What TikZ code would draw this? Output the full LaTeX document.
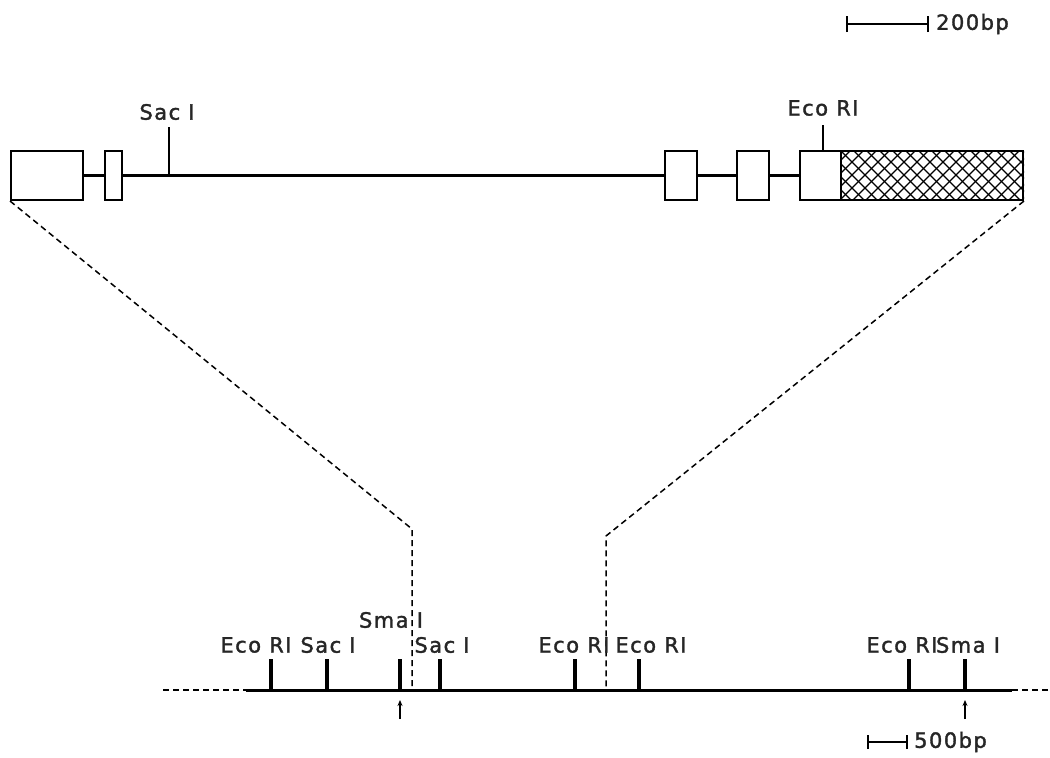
\documentclass[tikz,border=0pt]{standalone}
\usepackage{fontspec}
\newfontfamily\lbfont{DejaVu Sans}[LetterSpace=7,FakeBold=1.6]
\usetikzlibrary{arrows.meta}
\tikzset{
  exon/.style={draw, line width=2pt, inner sep=0pt, fill=white, anchor=north west},
  gline/.style={line width=2.4pt},
  siteline/.style={line width=2.4pt},
  tickline/.style={line width=3.2pt},
  guide/.style={line width=1.5pt, dash pattern=on 6pt off 4pt},
  lbl/.style={font=\lbfont\fontsize{21}{25}\selectfont, inner sep=0pt, text=black!85},
  barline/.style={line width=2.6pt},
  uparrow/.style={line width=2pt, -{Stealth[length=6pt,width=5pt]}}
}
\begin{document}
\begin{tikzpicture}[x=1pt,y=-1pt]
\useasboundingbox[fill=white] (0,0) rectangle (1050,758);

% scale bar top
\coordinate (sa) at (847,24); \coordinate (sb) at (928,24);
\draw[barline] (sa) -- (sb);
\draw[barline] ([yshift=-8pt]sa) -- ([yshift=8pt]sa);
\draw[barline] ([yshift=-8pt]sb) -- ([yshift=8pt]sb);
\node[lbl, anchor=west] (s200) at (936,24) {200bp};

% gene structure
\node[exon, minimum width=72pt, minimum height=49pt] (e1) at (10,150) {};
\node[exon, minimum width=17pt, minimum height=49pt] (e2) at (104,150) {};
\node[exon, minimum width=32pt, minimum height=49pt] (e3) at (664,150) {};
\node[exon, minimum width=32pt, minimum height=49pt] (e4) at (736,150) {};
\node[exon, minimum width=41pt, minimum height=49pt] (e5) at (799,150) {};
\node[exon, minimum width=182pt, minimum height=49pt, fill=none] (e6) at (840,150) {};
\begin{scope}
  \clip (e6.north west) rectangle (e6.south east);
  \foreach \k in {-5,...,16} {
    \draw[line width=1.3pt] (840+\k*13,150) -- ++(50,50);
    \draw[line width=1.3pt] (840+\k*13+50,150) -- ++(-50,50);
  }
\end{scope}
\node[exon, minimum width=182pt, minimum height=49pt, fill=none] at (840,150) {};

\draw[gline] (e1.east) -- (e2.west);
\draw[gline] (e2.east) -- (e3.west);
\draw[gline] (e3.east) -- (e4.west);
\draw[gline] (e4.east) -- (e5.west);

% Sac I top
\coordinate (sac0) at (169,174); \coordinate (sac1) at (169,127);
\draw[siteline] (sac0) -- (sac1);
\node[lbl] (tsac) at (167,112) {Sac I};
% Eco RI top
\coordinate (eco0) at (823,150); \coordinate (eco1) at (823,125);
\draw[siteline] (eco0) -- (eco1);
\node[lbl] (teco) at (823,108) {Eco RI};

% guides
\coordinate (bl) at (412,529); \coordinate (bl2) at (412,690);
\coordinate (br) at (606,536); \coordinate (br2) at (606,690);
\draw[guide] (e1.south west) -- (bl) -- (bl2);
\draw[guide] (e6.south east) -- (br) -- (br2);

% genomic line
\coordinate (L0) at (163,690); \coordinate (L1) at (246,690);
\coordinate (L2) at (1012,690); \coordinate (L3) at (1050,690);
\draw[guide] (L0) -- (L1);
\draw[line width=3pt] (L1) -- (L2);
\draw[guide] (L2) -- (L3);

\foreach \x/\n in {271/t1,327/t2,400/t3,440/t4,575/t5,639/t6,909/t7,965/t8} {
  \coordinate (\n) at (\x,690);
  \draw[tickline] (\n) -- ++(0,-31);
}

\node[lbl] (b1) at (256,645) {Eco RI};
\node[lbl] (b2) at (328,645) {Sac I};
\node[lbl] (b3) at (391,620) {Sma I};
\node[lbl] (b4) at (442,645) {Sac I};
\node[lbl] (b5) at (574,645) {Eco RI};
\node[lbl] (b6) at (651,645) {Eco RI};
\node[lbl] (b7) at (902,645) {Eco RI};
\node[lbl] (b8) at (968,645) {Sma I};

% arrows
\coordinate (a1s) at (400,719); \coordinate (a1e) at (400,700);
\coordinate (a2s) at (965,719); \coordinate (a2e) at (965,700);
\draw[uparrow] (a1s) -- (a1e);
\draw[uparrow] (a2s) -- (a2e);

% scale bar bottom
\coordinate (sc) at (868,742); \coordinate (sd) at (907,742);
\draw[barline] (sc) -- (sd);
\draw[barline] ([yshift=-7pt]sc) -- ([yshift=7pt]sc);
\draw[barline] ([yshift=-7pt]sd) -- ([yshift=7pt]sd);
\node[lbl, anchor=west] (s500) at (914,742) {500bp};
\end{tikzpicture}
\end{document}
